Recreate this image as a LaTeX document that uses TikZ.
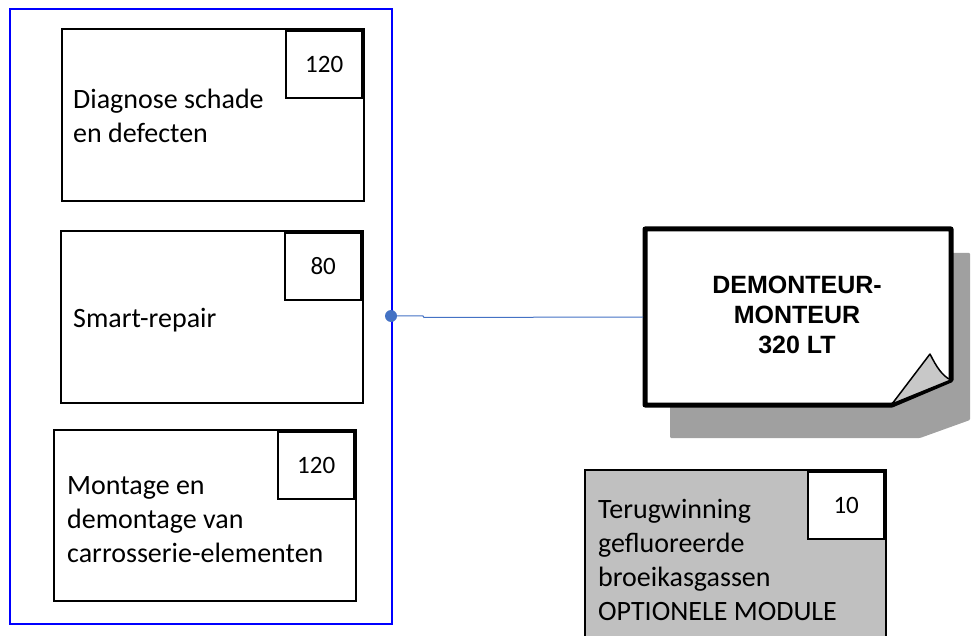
\documentclass[tikz,border=0pt]{standalone}
\usepackage{fontspec}
\setmainfont{Carlito}
\newfontfamily\arialfont{Liberation Sans}
\definecolor{conn}{HTML}{4472C4}
\definecolor{shadowgray}{HTML}{A0A0A0}
\definecolor{curlgray}{HTML}{C8C8C8}
\definecolor{modgray}{HTML}{C0C0C0}
\tikzset{
  taskbox/.style={draw, line width=1.6pt, fill=white, anchor=north west, inner sep=0pt},
  numbox/.style={draw, line width=1.6pt, fill=white, anchor=north east, inner sep=0pt,
    minimum width=76pt, minimum height=67pt, font=\fontsize{25}{30}\selectfont},
  tasktext/.style={anchor=base west, inner sep=0pt, align=left, font=\fontsize{28}{34}\selectfont},
}
\begin{document}
\begin{tikzpicture}[x=1pt,y=-1pt]
\useasboundingbox (0,0) rectangle (972,636);
\clip (0,0) rectangle (972,636);
% blue frame
\node[draw=blue, line width=2pt, anchor=north west, inner sep=0pt, minimum width=382pt, minimum height=615pt] (frame) at (9,8) {};
% task boxes
\node[taskbox, minimum width=302pt, minimum height=172pt] (b1) at (61,28) {};
\node[numbox] (n1) at (363,30) {120};
\node[tasktext] (t1) at (73,143) {Diagnose schade\\en defecten};
\node[taskbox, minimum width=302pt, minimum height=172pt] (b2) at (60,230) {};
\node[numbox] (n2) at (362,232) {80};
\node[tasktext] (t2) at (73,327) {Smart-repair};
\node[taskbox, minimum width=302pt, minimum height=171pt] (b3) at (53,429) {};
\node[numbox] (n3) at (355,431) {120};
\node[tasktext] (t3) at (67,562) {Montage en\\demontage van\\carrosserie-elementen};
% document shape with shadow
\fill[shadowgray, rounded corners=1pt] (670,253) -- (970,253) -- (970,420) -- (920,438) -- (670,438) -- cycle;
\draw[line width=5pt, fill=white, line join=round] (645,229) -- (951,229) -- (951,380) -- (892,405) -- (645,405) -- cycle;
\draw[line width=1.5pt, fill=curlgray, line join=round] (892,404) -- (930,354) .. controls (936,366) and (942,376) .. (951,380) -- cycle;
\node[anchor=base, inner sep=0pt, align=center, font=\arialfont\bfseries\fontsize{25}{30}\selectfont] (doc) at (797,353) {DEMONTEUR-\\MONTEUR\\320 LT};
\coordinate (docw) at (643,317);
% connector
\coordinate (dot) at (391,316);
\draw[conn, line width=1pt] (dot) -- (423,316) -- (424,317.5) -- (docw);
\fill[conn] (dot) circle (6pt);
% optional module
\node[draw, line width=1.6pt, fill=modgray, anchor=north west, inner sep=0pt, minimum width=301pt, minimum height=200pt] (mod) at (584,469) {};
\node[numbox, minimum width=76pt, minimum height=67pt] (n4) at (885,471) {10};
\node[tasktext] (t4) at (598,620) {Terugwinning\\gefluoreerde\\broeikasgassen\\OPTIONELE MODULE};
\end{tikzpicture}
\end{document}
